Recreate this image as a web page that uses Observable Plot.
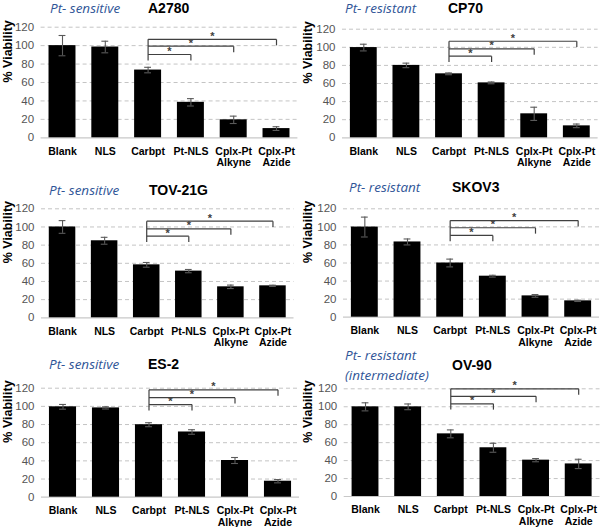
<!DOCTYPE html>
<html><head><meta charset="utf-8">
<script src="https://cdn.jsdelivr.net/npm/d3@7"></script>
<script src="https://cdn.jsdelivr.net/npm/@observablehq/plot@0.6"></script>
<style>
body{margin:0;background:#fff;}
#wrap{position:relative;width:600px;height:527px;overflow:hidden;background:#fff;}
.panel{position:absolute;}
.panel svg{display:block;}
#titles{position:absolute;left:0;top:0;pointer-events:none;}
</style></head><body><div id="wrap"></div>
<script>
// ---- data ----
const treatments = ["Blank", "NLS", "Carbpt", "Pt-NLS", "Cplx-Pt\nAlkyne", "Cplx-Pt\nAzide"];
const yTicks = [0, 20, 40, 60, 80, 100, 120];
const yLabel = "% Viability";
const cellLines = ["A2780", "CP70", "TOV-21G", "SKOV3", "ES-2", "OV-90"];
const sensitivity = ["Pt- sensitive", "Pt- resistant", "Pt- sensitive", "Pt- resistant", "Pt- sensitive", "Pt- resistant\n(intermediate)"];

const viabilityA2780 = [100, 98.5, 73.5, 38.5, 19.5, 10];
const errorA2780 = [11, 6.3, 3, 4, 4, 2];
const viabilityCP70 = [99.7, 80, 70.7, 60.7, 26.5, 13.2];
const errorCP70 = [3.7, 2.5, 1, 1, 7.3, 2];
const viabilityTOV21G = [100, 84.8, 58.3, 51.4, 34.1, 35.2];
const errorTOV21G = [7, 3.8, 2.6, 1.8, 1.9, 0.7];
const viabilitySKOV3 = [99.8, 83.3, 60, 45.4, 23.6, 18.1];
const errorSKOV3 = [11, 3.3, 4.3, 1, 1.5, 0.7];
const viabilityES2 = [99.5, 98.3, 79.8, 71.8, 40.4, 17.6];
const errorES2 = [2.6, 1.2, 2.2, 2.5, 3.3, 1.8];
const viabilityOV90 = [99.9, 99.9, 69.8, 54.3, 40.5, 36.3];
const errorOV90 = [4.5, 3.2, 4.4, 5, 1.8, 5.2];

// significance brackets: Carbpt vs each target, level in % viability
const bracketFrom = "Carbpt";
const bracketTargets = ["Pt-NLS", "Cplx-Pt\nAlkyne", "Cplx-Pt\nAzide"];
const bracketMark = "*";
const bracketDrop = 6.5;
const bracketsA2780 = [90.4, 99.4, 106.8];
const bracketsCP70 = [90.2, 98.3, 106.7];
const bracketsTOV21G = [89.9, 98, 106.4];
const bracketsSKOV3 = [90.5, 99, 107];
const bracketsES2 = [102, 109.6, 118.2];
const bracketsOV90 = [103.3, 111.6, 120];

const panelValues = [viabilityA2780, viabilityCP70, viabilityTOV21G, viabilitySKOV3, viabilityES2, viabilityOV90];
const panelErrors = [errorA2780, errorCP70, errorTOV21G, errorSKOV3, errorES2, errorOV90];
const panelBrackets = [bracketsA2780, bracketsCP70, bracketsTOV21G, bracketsSKOV3, bracketsES2, bracketsOV90];

// ---- layout ----
const layout = [
  {left: 0,   top: 0,   height: 175, mt: 26.7, mb: 37.7, ml: 40.6, mr: 2.6},
  {left: 300, top: 0,   height: 175, mt: 28.7, mb: 37.7, ml: 42,   mr: 2.4},
  {left: 0,   top: 175, height: 175, mt: 33.3, mb: 32.7, ml: 41,   mr: 6.5},
  {left: 300, top: 175, height: 175, mt: 33.3, mb: 33.3, ml: 43,   mr: 1},
  {left: 0,   top: 350, height: 177, mt: 37.7, mb: 30.3, ml: 41,   mr: 1},
  {left: 300, top: 350, height: 177, mt: 38.3, mb: 31,   ml: 43.7, mr: 0.5}
];
const titleLayout = [
  {x1: 50,  x2: 148, y: 13},
  {x1: 345, x2: 448, y: 13},
  {x1: 49,  x2: 149, y: 195},
  {x1: 349, x2: 452, y: 191.7},
  {x1: 49,  x2: 148, y: 369},
  {x1: 345, x2: 452, y: 360, yMain: 370}
];

const wrap = document.getElementById("wrap");
const barHalf = 0.315, capHalf = 0.08;
const gridColor = "#c4c4c4", errColor = "#5a5a5a", bracketColor = "#404040";

panelValues.forEach((vals, p) => {
  const L = layout[p];
  const rows = treatments.map((t, i) => ({i, t, v: vals[i], e: panelErrors[p][i]}));
  const f = treatments.indexOf(bracketFrom);
  const levels = panelBrackets[p];
  const segs = [], stars = [];
  bracketTargets.forEach((tg, k) => {
    const t = treatments.indexOf(tg), lv = levels[k];
    segs.push({x1: f, x2: t, y1: lv, y2: lv});
    segs.push({x1: t, x2: t, y1: lv, y2: lv - bracketDrop});
    stars.push({x: (f + t) / 2, y: lv});
  });
  segs.push({x1: f, x2: f, y1: d3.max(levels), y2: d3.min(levels) - bracketDrop});

  const chart = Plot.plot({
    width: 300,
    height: L.height,
    marginTop: L.mt,
    marginBottom: L.mb,
    marginLeft: L.ml,
    marginRight: L.mr,
    style: {fontFamily: "'Liberation Sans', Arial, sans-serif", fontSize: "11.5px", color: "#555", background: "transparent", overflow: "visible"},
    x: {domain: [-0.5, 5.5], axis: null},
    y: {domain: [0, 120], ticks: yTicks, tickSize: 0, tickPadding: 7, label: null},
    marks: [
      Plot.ruleY(yTicks.filter(d => d > 0), {stroke: gridColor, strokeDasharray: "4,3", strokeWidth: 1}),
      Plot.ruleY([0], {stroke: "#c8c8c8", strokeWidth: 1.2}),
      Plot.rect(rows, {x1: d => d.i - barHalf, x2: d => d.i + barHalf, y1: 0, y2: "v", fill: "#000"}),
      Plot.ruleX(rows, {x: "i", y1: d => d.v - d.e, y2: d => d.v + d.e, stroke: errColor, strokeWidth: 1.1}),
      Plot.ruleY(rows, {y: d => d.v + d.e, x1: d => d.i - capHalf, x2: d => d.i + capHalf, stroke: errColor, strokeWidth: 1.1}),
      Plot.ruleY(rows, {y: d => d.v - d.e, x1: d => d.i - capHalf, x2: d => d.i + capHalf, stroke: errColor, strokeWidth: 1.1}),
      Plot.link(segs, {x1: "x1", x2: "x2", y1: "y1", y2: "y2", stroke: bracketColor, strokeWidth: 1.2}),
      Plot.text(stars, {x: "x", y: "y", text: () => bracketMark, dy: -3, fontSize: 11, fontWeight: "bold", fill: bracketColor}),
      Plot.text(rows, {x: "i", y: () => 0, text: "t", lineAnchor: "top", dy: 8.5, fontSize: 10.5, fontWeight: "bold", lineHeight: 1.12, fill: "#000"}),
      Plot.text([yLabel], {frameAnchor: "left", rotate: -90, dx: 7 - L.ml, fontSize: 12.5, fontWeight: "bold", fill: "#000"})
    ]
  });
  const div = document.createElement("div");
  div.className = "panel";
  div.style.left = L.left + "px";
  div.style.top = L.top + "px";
  div.appendChild(chart);
  wrap.appendChild(div);
});

// titles
const svg = d3.select(wrap).append("svg").attr("id", "titles").attr("width", 600).attr("height", 527);
titleLayout.forEach((T, p) => {
  const lines = sensitivity[p].split("\n");
  lines.forEach((ln, j) => {
    svg.append("text").attr("x", T.x1).attr("y", T.y + j * 20)
      .attr("font-family", "'Open Sans', sans-serif").attr("font-style", "italic")
      .attr("font-size", 13.5).attr("fill", "#2f5597").text(ln);
  });
  svg.append("text").attr("x", T.x2).attr("y", T.yMain ?? T.y)
    .attr("font-family", "'Liberation Sans', Arial, sans-serif").attr("font-weight", 700)
    .attr("font-size", 14).attr("fill", "#000").text(cellLines[p]);
});
</script></body></html>
